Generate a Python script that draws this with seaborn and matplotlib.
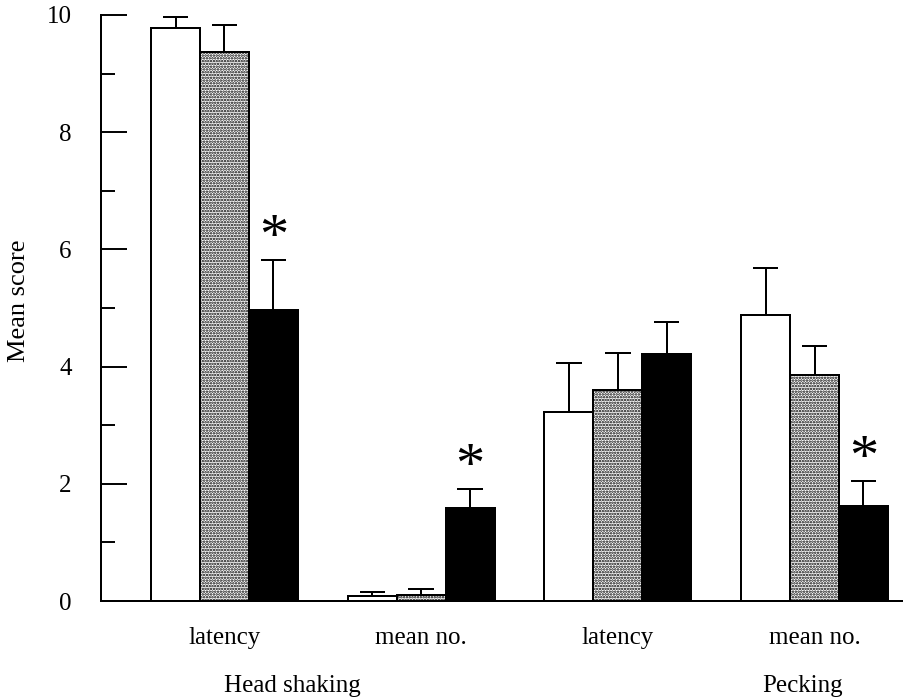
import numpy as np
import pandas as pd
import matplotlib
matplotlib.use("Agg")
import matplotlib.pyplot as plt
import matplotlib.transforms as mtransforms
import seaborn as sns

# Measures (x-axis categories) and their behaviour groups
measures = ["latency", "mean no.", "latency ", "mean no. "]
measure_labels = ["latency", "mean no.", "latency", "mean no."]
behaviours = ["Head shaking", "Pecking"]
treatments = ["A", "B", "C"]

# Mean scores per treatment (one value per measure)
mean_a = [9.77, 0.08, 3.22, 4.88]
mean_b = [9.37, 0.10, 3.60, 3.86]
mean_c = [4.97, 1.59, 4.21, 1.62]

# Standard errors (drawn upward only)
sem_a = [0.20, 0.07, 0.84, 0.80]
sem_b = [0.46, 0.10, 0.63, 0.49]
sem_c = [0.85, 0.32, 0.55, 0.43]

# Significant differences marked with an asterisk (treatment C only)
signif_c = [True, True, False, True]

sns.set_theme(style="white")
plt.rcParams["font.family"] = ["Liberation Serif", "DejaVu Serif"]
plt.rcParams["hatch.linewidth"] = 1.2
plt.rcParams["text.color"] = "black"
plt.rcParams["axes.labelcolor"] = "black"
plt.rcParams["xtick.color"] = "black"
plt.rcParams["ytick.color"] = "black"

rows = []
for t, means, sems in zip(treatments, [mean_a, mean_b, mean_c], [sem_a, sem_b, sem_c]):
    for m, v, s in zip(measures, means, sems):
        rows.append({"measure": m, "treatment": t, "score": v, "sem": s})
df = pd.DataFrame(rows)

fig = plt.figure(figsize=(9.04, 7.0), dpi=100)
ax = fig.add_axes([0.1117, 0.1414, 0.8883, 0.8372])

sns.barplot(data=df, x="measure", y="score", hue="treatment", order=measures,
            hue_order=treatments, errorbar=None, width=0.746, gap=0,
            legend=False, ax=ax)

faces = ["white", "white", "black"]
hatches = [None, "......", None]
lw_px = 2.0 / 100 * 72
for cont, fc, hatch, sems, flags in zip(ax.containers, faces, hatches,
                                        [sem_a, sem_b, sem_c],
                                        [None, None, signif_c]):
    for i, patch in enumerate(cont.patches):
        patch.set_facecolor(fc)
        patch.set_edgecolor("black")
        patch.set_linewidth(lw_px)
        if hatch:
            patch.set_hatch(hatch)
        xc = patch.get_x() + patch.get_width() / 2
        top = patch.get_height()
        cap = top + sems[i]
        half = patch.get_width() * 0.26
        ax.vlines(xc, top, cap, color="black", lw=lw_px, zorder=3)
        ax.hlines(cap, xc - half, xc + half, color="black", lw=lw_px, zorder=3)
        if flags is not None and flags[i]:
            ax.text(xc, cap + 0.36, "*", ha="center", va="center",
                    fontsize=42, color="black")

ax.set_xlim(-0.628, 3.455)
ax.set_ylim(0, 10)

ax.set_yticks([0, 2, 4, 6, 8, 10])
ax.set_yticks([1, 3, 5, 7, 9], minor=True)
ax.tick_params(axis="y", which="major", direction="in", length=18.7,
               width=1.4, pad=21, labelsize=18, left=True, color="black")
ax.tick_params(axis="y", which="minor", direction="in", length=10,
               width=1.4, left=True, color="black")
ax.set_xticks(range(len(measures)))
ax.set_xticklabels(measure_labels)
ax.tick_params(axis="x", length=0, pad=19, labelsize=18)

ax.set_xlabel("")
ax.set_ylabel("Mean score", fontsize=19)
ax.yaxis.set_label_coords(-0.088, 0.512)

for side in ["top", "right"]:
    ax.spines[side].set_visible(False)
for side in ["left", "bottom"]:
    ax.spines[side].set_color("black")
    ax.spines[side].set_linewidth(lw_px)

# Behaviour names below the measure labels
trans = mtransforms.blended_transform_factory(ax.transData, fig.transFigure)
for name, xpos in zip(behaviours, [0.343, 2.94]):
    ax.text(xpos, 1 - 686 / 700, name, transform=trans, ha="center",
            va="center", fontsize=18)

fig.savefig("out.png", dpi=100, facecolor="white")
